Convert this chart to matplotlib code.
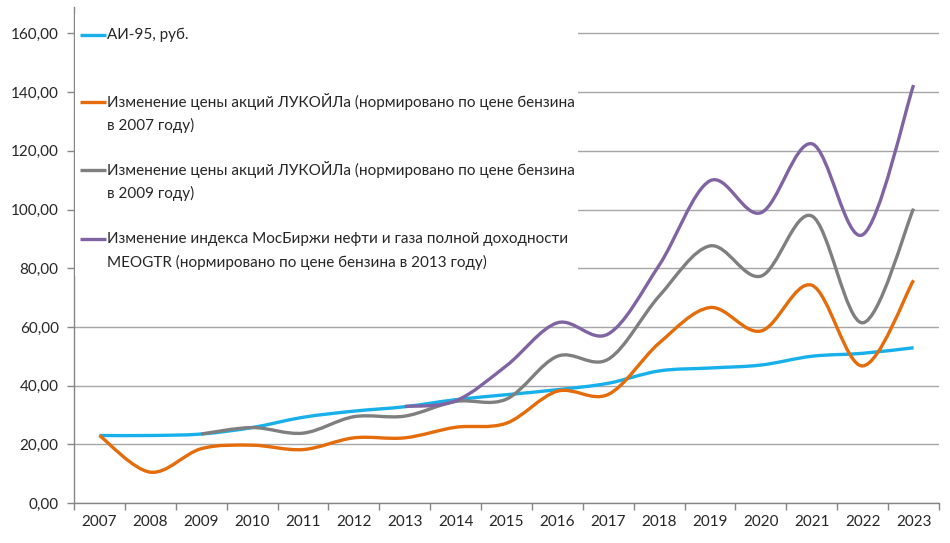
import matplotlib
matplotlib.use("Agg")
import matplotlib.pyplot as plt
from matplotlib.path import Path
from matplotlib.patches import PathPatch, Rectangle
from matplotlib.lines import Line2D
import numpy as np

plt.rcParams['font.family'] = ['Lato', 'DejaVu Sans']

years = [str(y) for y in range(2007, 2024)]
ai95 = [23.0, 23.0, 23.5, 25.7, 29.2, 31.3, 32.8, 35.2, 36.9, 38.6, 40.8, 45.0, 46.0, 47.0, 50.0, 51.0, 52.9]
luk2007 = [23.0, 10.5, 18.5, 19.7, 18.2, 22.2, 22.2, 25.8, 27.2, 38.1, 37.0, 54.5, 66.6, 58.6, 74.2, 46.7, 75.9]
luk2009 = [None, None, 23.5, 25.7, 23.8, 29.4, 29.6, 34.6, 35.4, 50.0, 49.0, 70.5, 87.6, 77.3, 97.8, 61.4, 100.3]
meogtr = [None] * 6 + [32.9, 34.8, 46.8, 61.4, 57.6, 81.0, 109.8, 98.9, 122.4, 91.4, 142.4]

labels = [
    ["АИ-95, руб."],
    ["Изменение цены акций ЛУКОЙЛа (нормировано по цене бензина", "в 2007 году)"],
    ["Изменение цены акций ЛУКОЙЛа (нормировано по цене бензина", "в 2009 году)"],
    ["Изменение индекса МосБиржи нефти и газа полной доходности", "MEOGTR (нормировано по цене бензина в 2013 году)"],
]
colors = ['#17b0ea', '#e46c0a', '#7f7f7f', '#8064a2']
series = [ai95, luk2007, luk2009, meogtr]

W, H = 950, 543
fig = plt.figure(figsize=(W / 100, H / 100), dpi=100)
L, R, B, T = 74, 939, 503, 7
ax = fig.add_axes([L / W, 1 - B / H, (R - L) / W, (B - T) / H])


def smooth_path(xs, ys):
    pts = np.column_stack([xs, ys]).astype(float)
    n = len(pts)
    verts = [pts[0]]
    codes = [Path.MOVETO]
    for i in range(n - 1):
        p0 = pts[i - 1] if i > 0 else pts[i]
        p1 = pts[i]
        p2 = pts[i + 1]
        p3 = pts[i + 2] if i + 2 < n else pts[i + 1]
        c1 = p1 + (p2 - p0) / 6.0
        c2 = p2 - (p3 - p1) / 6.0
        verts += [c1, c2, p2]
        codes += [Path.CURVE4] * 3
    return Path(np.array(verts), codes)


x_all = np.arange(len(years))
for vals, col in zip(series, colors):
    xs = [x for x, v in zip(x_all, vals) if v is not None]
    ys = [v for v in vals if v is not None]
    patch = PathPatch(smooth_path(xs, ys), facecolor='none', edgecolor=col,
                      lw=2.4, capstyle='butt', joinstyle='round', zorder=3)
    ax.add_patch(patch)

FS = 11
ax.set_xlim(-0.5, len(years) - 0.5)
ax.set_ylim(0, 169)
ax.set_yticks(np.arange(0, 161, 20))
ax.set_yticklabels([f"{v:.2f}".replace('.', ',') for v in np.arange(0, 161, 20)])
ax.set_xticks(np.arange(-0.5, len(years), 1.0))
ax.set_xticklabels([])
ax.set_xticks(x_all, minor=True)
ax.set_xticklabels(years, minor=True)
ax.tick_params(axis='x', which='minor', length=0, pad=9, labelsize=FS, colors='#262626')
ax.tick_params(axis='x', which='major', length=5, width=1, color='#868686')
ax.tick_params(axis='y', length=5, width=1, color='#868686', labelsize=FS, labelcolor='#262626', pad=6)

ax.grid(axis='y', color='#a6a6a6', lw=1)
ax.set_axisbelow(True)
for s in ['top', 'right']:
    ax.spines[s].set_visible(False)
for s in ['left', 'bottom']:
    ax.spines[s].set_color('#868686')
    ax.spines[s].set_linewidth(1)

# legend (manual, Excel-like), in a pixel-coordinate overlay
ax_leg = fig.add_axes([0, 0, 1, 1], facecolor='none')
ax_leg.set_axis_off()
ax_leg.set_xlim(0, W)
ax_leg.set_ylim(H, 0)
ax_leg.add_patch(Rectangle((75, 14), 503, 262, facecolor='white', edgecolor='none'))
first_y = [35, 102, 170, 239]
for lines, col, y0 in zip(labels, colors, first_y):
    ax_leg.add_line(Line2D([80, 106], [y0, y0], color=col, lw=2.4, solid_capstyle='butt'))
    for k, line in enumerate(lines):
        ax_leg.text(107, y0 + k * 23, line, fontsize=FS, color='#262626', va='center', ha='left')

fig.savefig('out.png', dpi=100, facecolor='white')
